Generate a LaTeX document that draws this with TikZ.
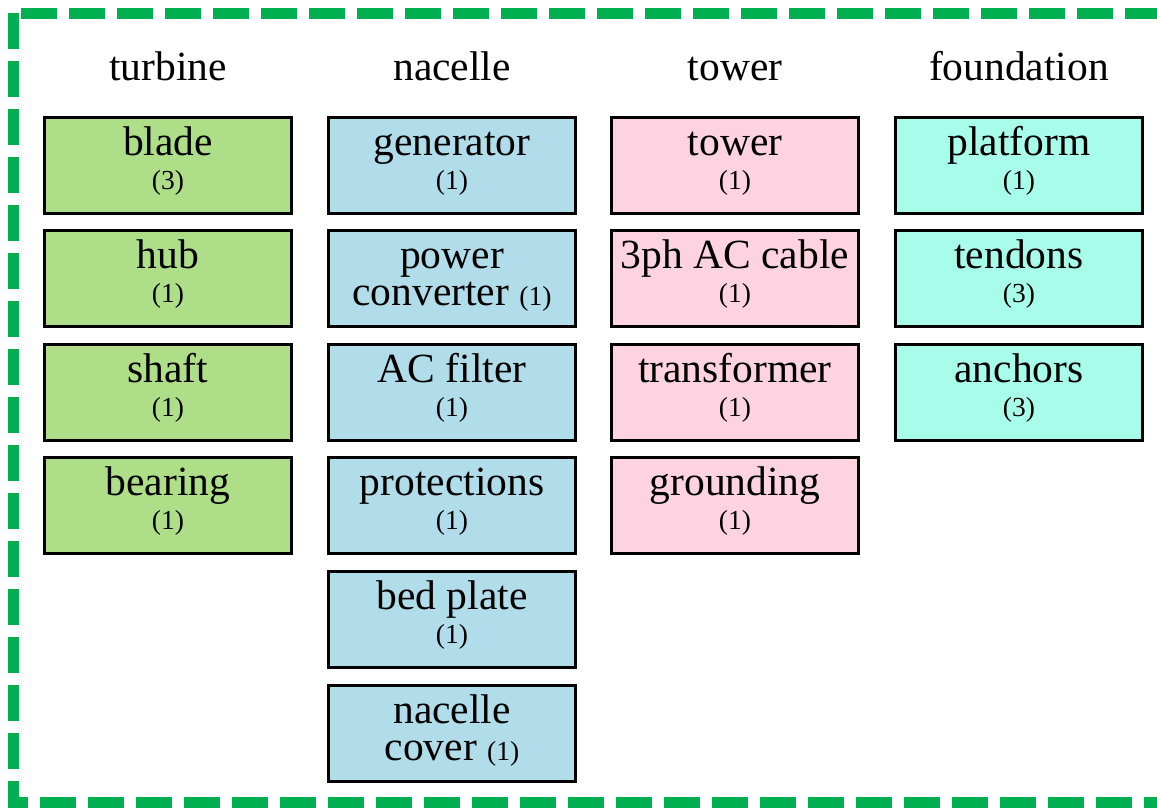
\documentclass[tikz,border=0pt]{standalone}
\usepackage{fontspec}
\setmainfont{Liberation Serif}
\definecolor{bordergreen}{HTML}{00B050}
\definecolor{cgreen}{HTML}{AEDF88}
\definecolor{cblue}{HTML}{B0DDE9}
\definecolor{cpink}{HTML}{FDD3E2}
\definecolor{caqua}{HTML}{A8FDEA}
\newcommand{\cnt}[1]{{\fontsize{27.5}{27.5}\selectfont #1}}
% big line + count line
\newcommand{\bc}[2]{\rule{0pt}{30pt}#1\\[-3pt]\cnt{#2}\rule[-16pt]{0pt}{16pt}}
% two big lines
\newcommand{\bb}[2]{\rule{0pt}{30pt}#1\\#2\rule[-13pt]{0pt}{13pt}}
\tikzset{
  comp/.style={draw=black, line width=3pt, rectangle, minimum width=247pt, minimum height=96pt,
    inner sep=0pt, align=center, font=\fontsize{41.5}{37}\selectfont},
  head/.style={anchor=base, font=\fontsize{41.5}{41.5}\selectfont, inner sep=0pt},
}
\begin{document}
\begin{tikzpicture}[x=1pt,y=-1pt]
\useasboundingbox (0,0) rectangle (1157,807);
\draw[bordergreen, line width=11pt, dash pattern=on 36pt off 12pt] (13,13) rectangle (1166,802);
% headers
\node[head] (h1) at (168,80) {turbine};
\node[head] (h2) at (452,80) {nacelle};
\node[head] (h3) at (735,80) {tower};
\node[head] (h4) at (1019,80) {foundation};
% turbine
\node[comp, fill=cgreen] (t1) at (168,165) {\bc{blade}{(3)}};
\node[comp, fill=cgreen] (t2) at (168,278.5) {\bc{hub}{(1)}};
\node[comp, fill=cgreen] (t3) at (168,392) {\bc{shaft}{(1)}};
\node[comp, fill=cgreen] (t4) at (168,505.5) {\bc{bearing}{(1)}};
% nacelle
\node[comp, fill=cblue] (n1) at (452,165) {\bc{generator}{(1)}};
\node[comp, fill=cblue] (n2) at (452,278.5) {\bb{power}{converter \cnt{(1)}}};
\node[comp, fill=cblue] (n3) at (452,392) {\bc{AC filter}{(1)}};
\node[comp, fill=cblue] (n4) at (452,505.5) {\bc{protections}{(1)}};
\node[comp, fill=cblue] (n5) at (452,619) {\bc{bed plate}{(1)}};
\node[comp, fill=cblue] (n6) at (452,733) {\bb{nacelle}{cover \cnt{(1)}}};
% tower
\node[comp, fill=cpink] (w1) at (735,165) {\bc{tower}{(1)}};
\node[comp, fill=cpink] (w2) at (735,278.5) {\bc{3ph AC cable}{(1)}};
\node[comp, fill=cpink] (w3) at (735,392) {\bc{transformer}{(1)}};
\node[comp, fill=cpink] (w4) at (735,505.5) {\bc{grounding}{(1)}};
% foundation
\node[comp, fill=caqua] (f1) at (1019,165) {\bc{platform}{(1)}};
\node[comp, fill=caqua] (f2) at (1019,278.5) {\bc{tendons}{(3)}};
\node[comp, fill=caqua] (f3) at (1019,392) {\bc{anchors}{(3)}};
\end{tikzpicture}
\end{document}
